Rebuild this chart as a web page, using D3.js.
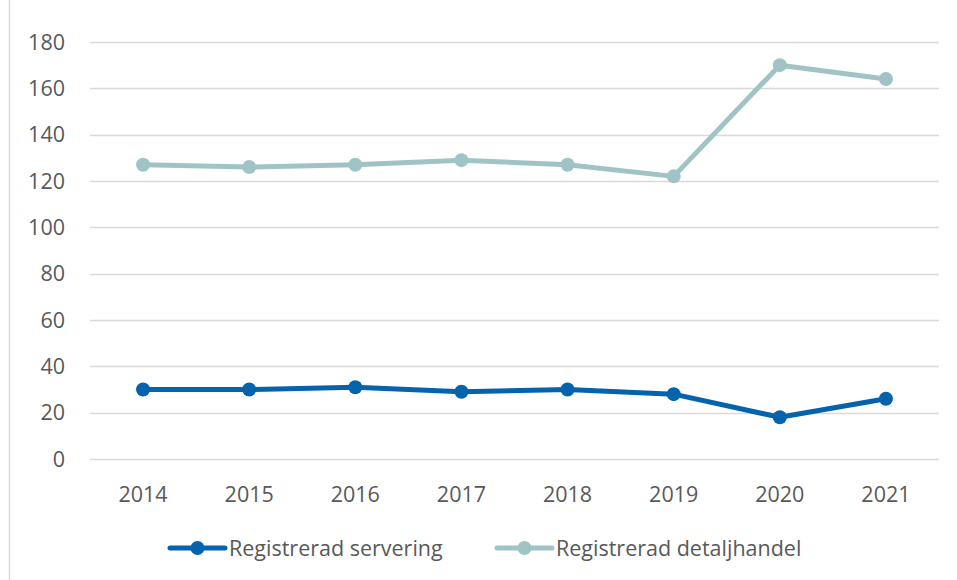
<!DOCTYPE html>
<html>
<head>
<meta charset="utf-8">
<script src="https://d3js.org/d3.v7.min.js"></script>
<style>
  body { margin: 0; background: #fff; }
  svg { font-family: "Open Sans", "Noto Sans", sans-serif; }
</style>
</head>
<body>
<div id="chart"></div>
<script>
var years = ["2014", "2015", "2016", "2017", "2018", "2019", "2020", "2021"];
var servering = [30, 30, 31, 29, 30, 28, 18, 26];
var detaljhandel = [127, 126, 127, 129, 127, 122, 170, 164];
var yTicks = [0, 20, 40, 60, 80, 100, 120, 140, 160, 180];
var seriesNames = ["Registrerad servering", "Registrerad detaljhandel"];
var seriesColors = ["#0563ae", "#a0c4c6"];

var width = 957, height = 580;
var margin = {left: 90, right: 18, top: 42, bottom: 121};
var fontSize = "21.5px";

var svg = d3.select("#chart").append("svg")
  .attr("width", width)
  .attr("height", height);

// frame edge on the left
svg.append("line")
  .attr("x1", 9.5).attr("x2", 9.5)
  .attr("y1", 0).attr("y2", height)
  .attr("stroke", "#d9d9d9").attr("stroke-width", 1.5);

var x = d3.scaleBand()
  .domain(years)
  .range([margin.left, width - margin.right]);

var y = d3.scaleLinear()
  .domain([0, 180])
  .range([height - margin.bottom, margin.top]);

// gridlines
svg.append("g")
  .selectAll("line")
  .data(yTicks)
  .join("line")
  .attr("x1", margin.left).attr("x2", width - margin.right)
  .attr("y1", function(d) { return Math.round(y(d)) + 0.5; })
  .attr("y2", function(d) { return Math.round(y(d)) + 0.5; })
  .attr("stroke", "#d9d9d9").attr("stroke-width", 1.5);

// y labels
svg.append("g")
  .selectAll("text")
  .data(yTicks)
  .join("text")
  .attr("x", 65)
  .attr("y", function(d) { return y(d); })
  .attr("dy", "0.35em")
  .attr("text-anchor", "end")
  .attr("fill", "#595959")
  .style("font-size", fontSize)
  .text(function(d) { return d; });

// x labels
svg.append("g")
  .selectAll("text")
  .data(years)
  .join("text")
  .attr("x", function(d) { return x(d) + x.bandwidth() / 2; })
  .attr("y", 502)
  .attr("text-anchor", "middle")
  .attr("fill", "#595959")
  .style("font-size", fontSize)
  .text(function(d) { return d; });

var series = [servering, detaljhandel];
var line = d3.line()
  .x(function(d, i) { return x(years[i]) + x.bandwidth() / 2; })
  .y(function(d) { return y(d); });

series.forEach(function(vals, s) {
  svg.append("path")
    .datum(vals)
    .attr("d", line)
    .attr("fill", "none")
    .attr("stroke", seriesColors[s])
    .attr("stroke-width", 5)
    .attr("stroke-linejoin", "round");
  svg.append("g")
    .selectAll("circle")
    .data(vals)
    .join("circle")
    .attr("cx", function(d, i) { return x(years[i]) + x.bandwidth() / 2; })
    .attr("cy", function(d) { return y(d); })
    .attr("r", 7)
    .attr("fill", seriesColors[s]);
});

// legend
var legendX = [170, 497];
seriesNames.forEach(function(name, s) {
  var g = svg.append("g").attr("transform", "translate(" + legendX[s] + ",548)");
  g.append("line")
    .attr("x1", 0).attr("x2", 55)
    .attr("y1", 0).attr("y2", 0)
    .attr("stroke", seriesColors[s]).attr("stroke-width", 5)
    .attr("stroke-linecap", "round");
  g.append("circle")
    .attr("cx", 27.5).attr("cy", 0).attr("r", 7)
    .attr("fill", seriesColors[s]);
  g.append("text")
    .attr("x", 59).attr("y", 0)
    .attr("dy", "0.35em")
    .attr("fill", "#595959")
    .style("font-size", fontSize)
    .text(name);
});
</script>
</body>
</html>
